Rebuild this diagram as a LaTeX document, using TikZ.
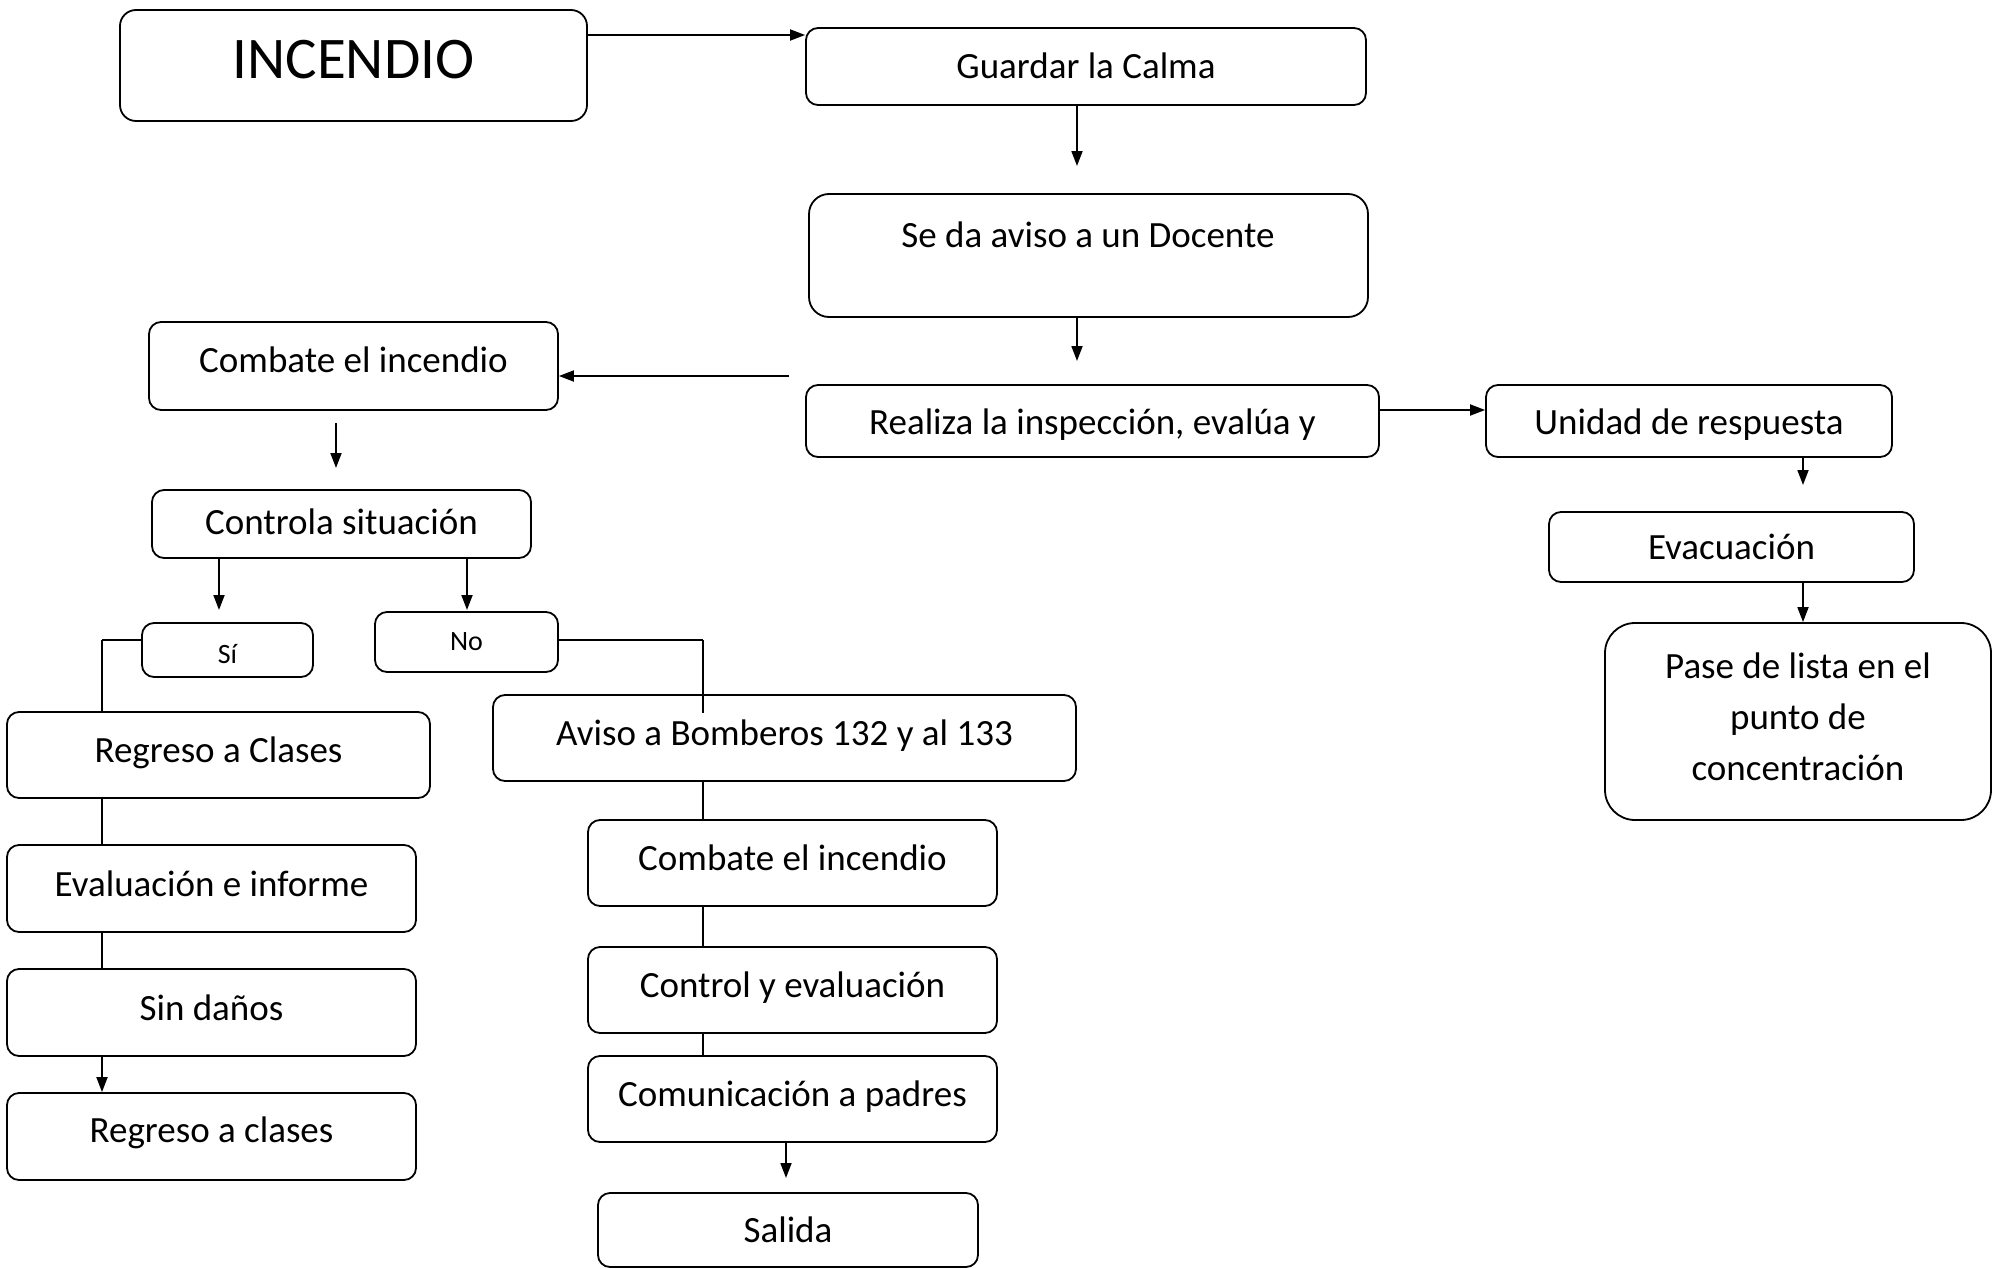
\documentclass[tikz,border=0pt]{standalone}
\usepackage{fontspec}
\setmainfont{Carlito}
\usetikzlibrary{arrows.meta}
\tikzset{
  box/.style={draw, line width=0.9pt, rounded corners=6pt, inner sep=0pt, align=center, font=\fontsize{18.5}{25.5}\selectfont},
  txt/.style={inner sep=0pt, align=center, font=\fontsize{18.5}{25.5}\selectfont},
  arr/.style={line width=0.9pt, -{Triangle[length=7.5pt,width=5.5pt]}},
  ln/.style={line width=0.9pt},
  thin/.style={line width=0.6pt}
}
\newcommand{\rz}[2]{\raisebox{#1}[\height][\depth]{#2}}
\begin{document}
\begin{tikzpicture}[x=0.5pt,y=-0.5pt]
\useasboundingbox (0,0) rectangle (2004,1269);
% nodes
\node[box, minimum width=233.5pt, minimum height=55.5pt, rounded corners=8pt, font=\fontsize{29.5}{34}\selectfont] (inc) at (353.5,65.5) {\rz{2.75pt}{INCENDIO}};
\node[box, minimum width=280pt, minimum height=38.5pt] (calma) at (1086,66.5) {\rz{0.6pt}{Guardar la Calma}};
\node[box, minimum width=279.5pt, minimum height=61.5pt, rounded corners=10pt] (aviso) at (1088.5,255.5) {};
\node[txt] (avisotxt) at (1088,235) {Se da aviso a un Docente};
\node[box, minimum width=286.5pt, minimum height=36pt] (realiza) at (1092.5,421) {\rz{-1.9pt}{Realiza la inspección, evalúa y}};
\node[box, minimum width=203pt, minimum height=36pt] (unidad) at (1689,421) {\rz{-1.9pt}{Unidad de respuesta}};
\node[box, minimum width=182.5pt, minimum height=35pt] (evac) at (1731.5,547) {Evacuación};
\node[box, minimum width=193pt, minimum height=98.5pt, rounded corners=15pt] (pase) at (1798,721.5) {};
\node[txt] (pasetxt) at (1798,717) {Pase de lista en el\\punto de\\concentración};
\node[box, minimum width=204.5pt, minimum height=44pt] (comb1) at (353.5,366) {\rz{3.2pt}{Combate el incendio}};
\node[box, minimum width=189.5pt, minimum height=34pt] (ctrl) at (341.5,524) {\rz{1.3pt}{Controla situación}};
\node[box, minimum width=85.5pt, minimum height=27pt, font=\fontsize{14}{16}\selectfont] (si) at (227.5,650) {\rz{-2pt}{Sí}};
\node[box, minimum width=91.5pt, minimum height=30pt, font=\fontsize{14}{16}\selectfont] (no) at (466.5,642) {No};
\node[box, minimum width=211.5pt, minimum height=43pt] (regc) at (218.5,755) {\rz{1.3pt}{Regreso a Clases}};
\node[box, minimum width=204.5pt, minimum height=43.5pt] (evalinf) at (211.5,888.5) {\rz{2.6pt}{Evaluación e informe}};
\node[box, minimum width=204.5pt, minimum height=43.5pt] (sind) at (211.5,1012.5) {\rz{2.6pt}{Sin daños}};
\node[box, minimum width=204.5pt, minimum height=43.5pt] (regc2) at (211.5,1136.5) {\rz{1.9pt}{Regreso a clases}};
\node[box, minimum width=291.5pt, minimum height=43pt] (bomb) at (784.5,738) {\rz{1.3pt}{Aviso a Bomberos 132 y al 133}};
\node[box, minimum width=204.5pt, minimum height=43pt] (comb2) at (792.5,863) {\rz{2.6pt}{Combate el incendio}};
\node[box, minimum width=204.5pt, minimum height=43pt] (ctrlev) at (792.5,990) {\rz{1.3pt}{Control y evaluación}};
\node[box, minimum width=204.5pt, minimum height=43pt] (comun) at (792.5,1099) {\rz{1.3pt}{Comunicación a padres}};
\node[box, minimum width=190pt, minimum height=37pt] (salida) at (788,1230) {Salida};
% free ends
\coordinate (e1) at (1077,166);
\coordinate (e2) at (1077,361);
\coordinate (s3) at (789,376);
\coordinate (s4) at (336,423);
\coordinate (e4) at (336,468);
\coordinate (e5) at (219,610);
\coordinate (e6) at (467,610);
\coordinate (e7) at (703,713);
\coordinate (e8) at (786,1178);
\coordinate (e9) at (1803,485);
% connectors
\draw[arr] (inc.east |- 0,35) -- (calma.west |- 0,35);
\draw[arr] (calma.south -| e1) -- (e1);
\draw[arr] (aviso.south -| e2) -- (e2);
\draw[arr] (realiza.east |- 0,410) -- (unidad.west |- 0,410);
\draw[arr] (s3) -- (comb1.east |- s3);
\draw[arr] (s4) -- (e4);
\draw[arr] (ctrl.south -| e5) -- (e5);
\draw[arr] (ctrl.south -| e6) -- (e6);
\draw[ln] (si.west |- 0,640) -- (102,640);
\draw[thin] (102,640) -- (regc.north -| 102,0);
\draw[ln] (no.east |- 0,640) -- (703,640);
\draw[thin] (703,640) -- (e7);
\draw[thin] (regc.south -| 102,0) -- (evalinf.north -| 102,0);
\draw[thin] (evalinf.south -| 102,0) -- (sind.north -| 102,0);
\draw[arr] (sind.south -| 102,0) -- (regc2.north -| 102,0);
\draw[thin] (bomb.south -| 703,0) -- (comb2.north -| 703,0);
\draw[thin] (comb2.south -| 703,0) -- (ctrlev.north -| 703,0);
\draw[thin] (ctrlev.south -| 703,0) -- (comun.north -| 703,0);
\draw[arr] (comun.south -| e8) -- (e8);
\draw[arr] (unidad.south -| e9) -- (e9);
\draw[arr] (evac.south -| e9) -- (pase.north -| e9);
\end{tikzpicture}
\end{document}
